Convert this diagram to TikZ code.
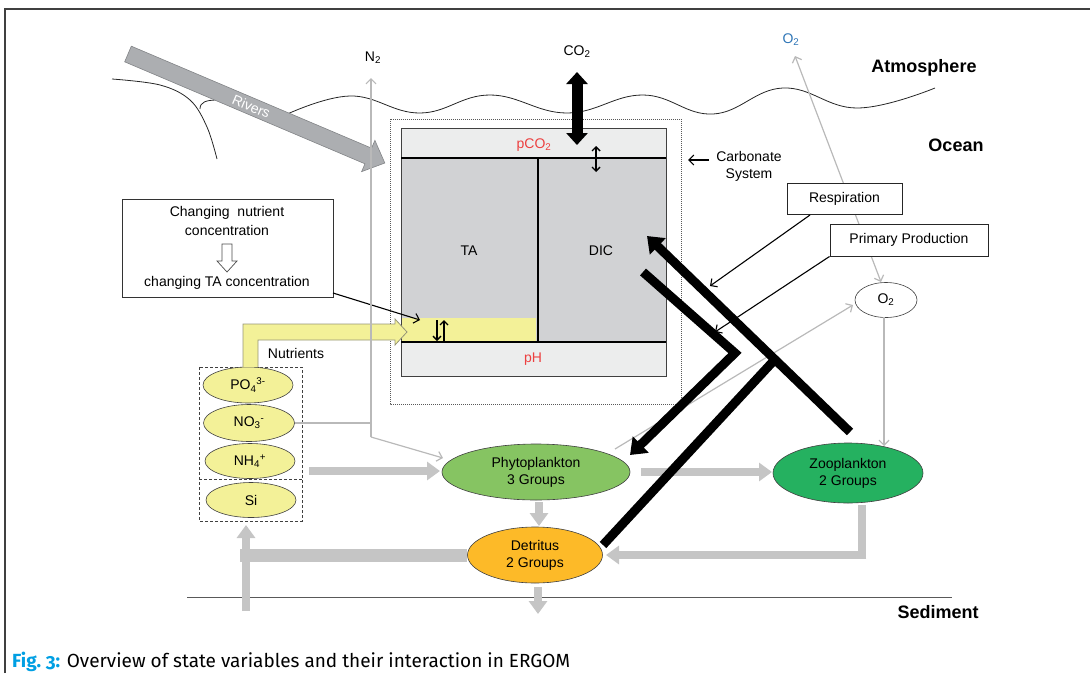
\documentclass[tikz,border=0pt]{standalone}
\usepackage{fontspec}
\setmainfont{Liberation Sans}
\newfontfamily\capfont{Fira Sans}
\usetikzlibrary{arrows.meta,shapes.geometric,calc}
\definecolor{phy}{RGB}{134,196,98}
\definecolor{zoo}{RGB}{37,177,96}
\definecolor{det}{RGB}{253,186,40}
\definecolor{yel}{RGB}{243,241,152}
\definecolor{yeldraw}{RGB}{150,150,120}
\definecolor{band}{RGB}{236,237,237}
\definecolor{midg}{RGB}{209,210,212}
\definecolor{thickg}{RGB}{197,197,197}
\definecolor{thing}{RGB}{185,185,185}
\definecolor{rivfill}{RGB}{172,174,177}
\definecolor{rivdraw}{RGB}{130,132,135}
\definecolor{redlab}{RGB}{236,64,64}
\definecolor{bluelab}{RGB}{46,117,182}
\definecolor{figblue}{RGB}{0,159,227}
\begin{document}
\begin{tikzpicture}[x=1pt,y=-1pt,
  font=\fontsize{14}{17}\selectfont,
  lab/.style={inner sep=0pt, align=center},
  boldlab/.style={inner sep=0pt, font=\fontsize{18}{21}\selectfont\bfseries},
  ell/.style={ellipse, draw=black!75, line width=0.6pt, inner sep=0pt, align=center},
  graythick/.style={draw=thickg, line width=8.5pt, -{Triangle[width=18pt,length=13pt]}},
  graythin/.style={draw=thing, line width=1.2pt},
  gtip/.style={-{Straight Barb[length=5pt,width=10pt]}},
  blkthin/.style={draw=black, line width=1.1pt, -{Straight Barb[length=5pt,width=10pt]}},
  blk/.style={draw=black, line width=9pt},
  btip/.style={-{Triangle[width=22pt,length=15pt]}},
  textbox/.style={draw=black!85, line width=1pt, fill=white, inner sep=0pt}]
\useasboundingbox (0,0) rectangle (1090,673);
% frame
\draw[black!75, line width=1.2pt] (5,673) -- (5,9) -- (1090,9);
% coast and sea surface
\draw[black!85, line width=0.8pt] plot[smooth, tension=0.6] coordinates {(112,79) (160,85) (190,100) (207,127) (217,159)};
\draw[black!85, line width=0.8pt] (200,109) .. controls (200,102) and (206,100) .. (218,100);
\draw[black!85, line width=0.8pt] plot[smooth, tension=0.7] coordinates {(283,116) (350,96) (420,113) (490,95) (567,113) (643,95) (713,114) (783,88) (857,108) (935,88)};
% rivers arrow
\begin{scope}[shift={(128,54)}, rotate=-23]
  \draw[fill=rivfill, draw=rivdraw, line width=0.6pt] (0,-8.5) -- (261,-8.5) -- (261,-17) -- (279,0) -- (261,17) -- (261,8.5) -- (0,8.5) -- cycle;
  \node[rotate=-23, text=white, lab] (rivtxt) at (134,0) {Rivers};
\end{scope}
% labels
\node[lab] (n2) at (373,58) {N\textsubscript{2}};
\node[lab] (co2) at (577,52) {CO\textsubscript{2}};
\node[lab, text=bluelab] (o2atm) at (791,40) {O\textsubscript{2}};
\node[boldlab] (atm) at (924,68) {Atmosphere};
\node[boldlab] (ocean) at (956,145) {Ocean};
\node[boldlab] (sed) at (938,612) {Sediment};
% sediment line
\draw[black!65, line width=1pt] (187,597) -- (952,597);
% carbonate system
\draw[black!65, line width=0.6pt, dash pattern=on 1pt off 1pt] (390,119) rectangle (681,404);
\fill[band] (401,128) rectangle (666,158);
\fill[midg] (401,158) rectangle (666,342);
\fill[yel] (401,318) rectangle (536,342);
\fill[band] (401,342) rectangle (666,376);
\draw[black!75, line width=0.8pt] (401,128) rectangle (666,376);
\draw[black, line width=1.4pt] (401,158) -- (666,158) (538,158) -- (538,342) (401,342) -- (666,342);
\node[lab, text=redlab] (pco2) at (534,145) {pCO\textsubscript{2}};
\node[lab, text=redlab] (ph) at (533,359) {pH};
\node[lab] (ta) at (469,251) {TA};
\node[lab] (dic) at (601,251) {DIC};
\draw[black, line width=1.4pt, {Straight Barb[length=4pt,width=8pt]}-{Straight Barb[length=4pt,width=8pt]}] (596,146) -- (596,172);
\draw[black, line width=1.4pt, -{Straight Barb[length=4pt,width=8pt]}] (437,320) -- (437,341);
\draw[black, line width=1.4pt, -{Straight Barb[length=4pt,width=8pt]}] (444,341) -- (444,320);
\coordinate (co2top) at (577,72);
\coordinate (co2bot) at (577,145);
\draw[black, line width=11pt, {Triangle[width=21pt,length=12pt]}-{Triangle[width=21pt,length=12pt]}] (co2top) -- (co2bot);
\node[lab] (carbs) at (749,166) {Carbonate\\System};
\coordinate (carbtip) at (688,160);
\coordinate (carbstart) at (709,160);
\draw[blkthin] (carbstart) -- (carbtip);
% nutrients
\draw[black!75, line width=0.8pt, dash pattern=on 3pt off 2pt] (199,367) rectangle (302,521);
\draw[black!75, line width=0.8pt, dash pattern=on 3pt off 2pt] (199,479) -- (302,479);
\node[ell, fill=yel, minimum width=90pt, minimum height=36pt] (po4) at (248,385) {PO\textsubscript{4}\textsuperscript{3-}};
\node[ell, fill=yel, minimum width=91pt, minimum height=37pt] (no3) at (249,423) {NO\textsubscript{3}\textsuperscript{-}};
\node[ell, fill=yel, minimum width=90pt, minimum height=35pt] (nh4) at (250,461) {NH\textsubscript{4}\textsuperscript{+}};
\node[ell, fill=yel, minimum width=90pt, minimum height=35pt] (si) at (251,500) {Si};
\node[lab] (nutl) at (296,353) {Nutrients};
\fill[yel] (243,367) -- (243,324) -- (395,324) -- (395,319) -- (407,332) -- (395,345) -- (395,340) -- (258,340) -- (258,367) -- cycle;
\draw[yeldraw, line width=0.8pt] (243,367) -- (243,324) -- (395,324) -- (395,319) -- (407,332) -- (395,345) -- (395,340) -- (258,340) -- (258,367);
% changing box
\node[draw=black!80, line width=0.8pt, minimum width=211pt, minimum height=98pt, inner sep=0pt] (chbox) at (227.5,248) {};
\node[lab] (ch1) at (227,213) {Changing\ \ nutrient};
\node[lab] (ch2) at (227,230) {concentration};
\node[lab] (ch3) at (227,283) {changing TA concentration};
\draw[black!70, fill=white, line width=0.7pt] (222,244) -- (232,244) -- (232,261) -- (237,261) -- (227,272) -- (217,261) -- (222,261) -- cycle;
\coordinate (chout) at (333,293);
\coordinate (tatip) at (420,320);
\draw[blkthin] (chout) -- (tatip);
% plankton ellipses
\node[ell, fill=phy, minimum width=188pt, minimum height=56pt] (phyto) at (536,472) {Phytoplankton\\3 Groups};
\node[ell, fill=zoo, minimum width=150pt, minimum height=60pt] (zoopl) at (848,473) {Zooplankton\\2 Groups};
\node[ell, fill=det, minimum width=135pt, minimum height=56pt] (detr) at (535,555) {Detritus\\2 Groups};
\node[ell, fill=white, minimum width=62pt, minimum height=35pt] (o2) at (886,300) {O\textsubscript{2}};
% thin gray connectors
\coordinate (njoin) at (371,423);
\coordinate (ncorner) at (371,437);
\coordinate (ntop) at (371,78);
\coordinate (phyW) at (443,458);
\coordinate (phyNE) at (615,449);
\coordinate (o2W) at (853,305);
\coordinate (o2S) at (884,317);
\coordinate (zooN) at (884,446);
\coordinate (o2up) at (795,56);
\coordinate (o2N) at (881,282);
\draw[graythin] (no3.east) -- (njoin);
\draw[graythin, gtip] (ncorner) -- (ntop);
\draw[graythin, gtip] (ncorner) -- (phyW);
\draw[graythin, gtip] (phyNE) -- (o2W);
\draw[graythin, gtip] (o2S) -- (zooN);
\draw[graythin, {Straight Barb[length=5pt,width=10pt]}-{Straight Barb[length=5pt,width=10pt]}] (o2up) -- (o2N);
% thick gray arrows
\coordinate (nhout) at (309,471);
\coordinate (phyin) at (440,471);
\coordinate (phyout) at (641,472);
\coordinate (zooin) at (772,472);
\coordinate (phydn) at (539,502);
\coordinate (detup) at (539,526);
\coordinate (zoodn) at (862,505);
\coordinate (zoocorner) at (862,555);
\coordinate (detE) at (606,555);
\coordinate (detW) at (467,555);
\coordinate (leftjoin) at (240,555);
\coordinate (leftbot) at (246,611);
\coordinate (lefttop) at (246,525);
\coordinate (detdn) at (538,587);
\coordinate (sedtip) at (538,614);
\draw[graythick] (nhout) -- (phyin);
\draw[graythick] (phyout) -- (zooin);
\draw[graythick] (phydn) -- (detup);
\draw[graythick, -] (zoodn) -- ($(zoocorner)+(0,4.25)$);
\draw[graythick] ($(zoocorner)+(4.25,0)$) -- (detE);
\draw[graythick, -, line width=13pt] (detW) -- (leftjoin);
\draw[graythick] (leftbot) -- (lefttop);
\draw[graythick] (detdn) -- (sedtip);
% boxes
\node[textbox, minimum width=115pt, minimum height=31pt] (resp) at (844.5,199) {Respiration};
\node[textbox, minimum width=158pt, minimum height=32pt] (pp) at (909,240) {Primary Production};
\coordinate (respout) at (810,215);
\coordinate (resptip) at (710,286);
\coordinate (pptip) at (715,332);
\draw[blkthin] (respout) -- (resptip);
\draw[blkthin] (pp.south west) -- (pptip);
% thick black arrows
\coordinate (zooS) at (850,432);
\coordinate (dicP) at (647,236);
\coordinate (chevA) at (643,272);
\coordinate (chevV) at (735,353);
\coordinate (phyP) at (630,455);
\coordinate (detP) at (603,545);
\draw[blk, btip] (zooS) -- (dicP);
\draw[blk, btip, line join=miter] (chevA) -- (chevV) -- (phyP);
\draw[blk] (detP) -- ($(zooS)!0.37!(dicP)$);
% caption
\node[anchor=base west, inner sep=0pt, font=\capfont\fontsize{19}{22}\selectfont] (cap) at (12,667)
  {{\color{figblue}\bfseries\addfontfeatures{Numbers=OldStyle}Fig.~3:} Overview of state variables and their interaction in ERGOM};
\end{tikzpicture}
\end{document}
